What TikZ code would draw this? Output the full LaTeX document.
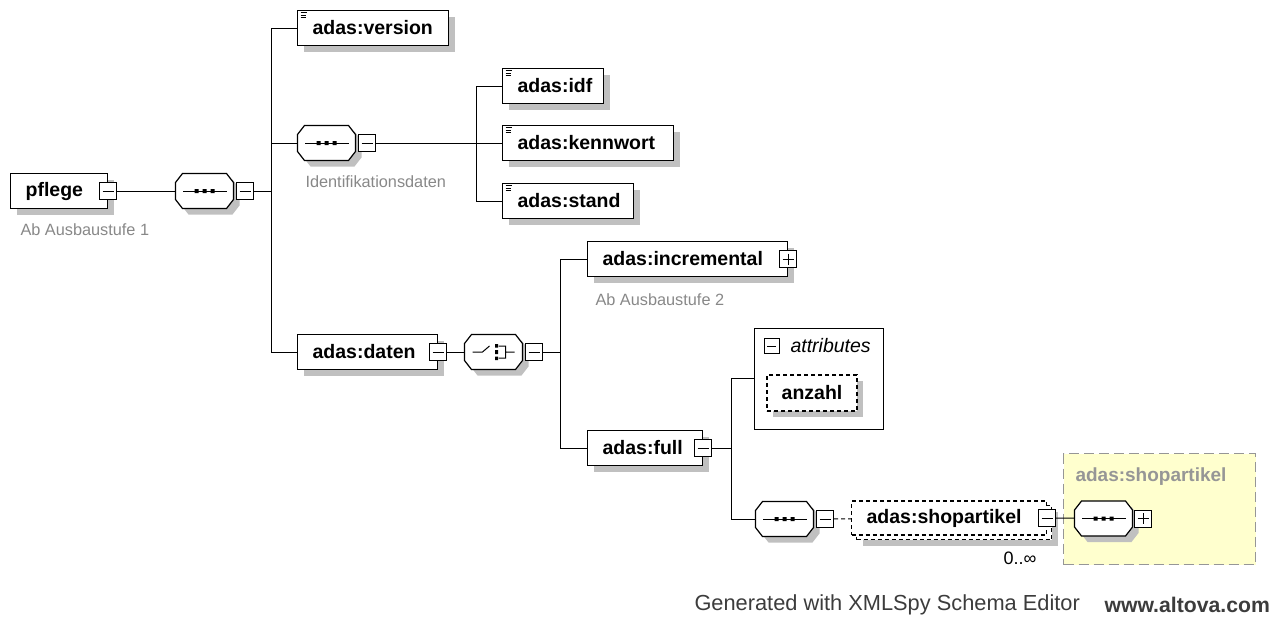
\documentclass[tikz,border=0pt]{standalone}
\usepackage{fontspec}
\setmainfont{Liberation Sans}
\usepackage{tikz}
\usetikzlibrary{positioning,calc,shadows}
\definecolor{notegray}{RGB}{136,136,136}
\definecolor{shadowgray}{RGB}{192,192,192}
\definecolor{groupfill}{RGB}{255,255,206}
\definecolor{groupline}{RGB}{150,150,150}
\definecolor{footgray}{RGB}{60,60,60}
\newcommand{\simpleicon}[1]{\draw[line width=0.9pt,shift={(#1.north west)}]
  (3.5,3)--(10,3) (3.5,5.5)--(9,5.5) (3.5,8)--(9,8);}
% octagon of a compositor, drawn over its (invisible) node
\newcommand{\octagon}[1]{%
  \fill[shadowgray,shift={(#1.center)},shift={(6,6)}] (-22,-17.5) -- (22,-17.5) -- (29,-8.5)
    -- (29,8.5) -- (22,17.5) -- (-22,17.5) -- (-29,8.5) -- (-29,-8.5) -- cycle;
  \filldraw[fill=white,line width=1.2pt,shift={(#1.center)}] (-22,-17.5) -- (22,-17.5) -- (29,-8.5)
    -- (29,8.5) -- (22,17.5) -- (-22,17.5) -- (-29,8.5) -- (-29,-8.5) -- cycle;}
\newcommand{\seqicon}[1]{%
  \octagon{#1}
  \draw[line width=1pt] ([xshift=8pt]#1.west) -- ([xshift=-7pt]#1.east);
  \fill[shift={(#1.center)}] (-10,-2) rectangle (-6,2) (-2,-2) rectangle (2,2)
    (6,-2) rectangle (10,2);}
\newcommand{\choiceicon}[1]{%
  \octagon{#1}
  \draw[line width=1pt,shift={(#1.center)}] (-21,0) -- (-11,0) -- (-4,-6)
    (5,-6) -- (12,-6) -- (12,6) -- (5,6) (12,0) -- (21,0);
  \fill[shift={(#1.center)}] (1.5,-8) rectangle (4.5,-4.5) (1.5,-2) rectangle (4.5,2)
    (1.5,4.5) rectangle (4.5,8);}

\begin{document}
\begin{tikzpicture}[x=1pt,y=-1pt,line width=1pt,
  shade/.style={drop shadow={shadow xshift=6pt,shadow yshift=-6pt,fill=shadowgray,opacity=1}},
  elembase/.style={draw,line width=1.2pt,fill=white,anchor=west,minimum height=35pt,
    inner xsep=15pt,inner ysep=0pt,align=left,text width=#1,
    font=\fontsize{19.5}{22}\selectfont\bfseries},
  elem/.style={elembase=#1,shade},
  compositor/.style={rectangle,minimum width=58pt,minimum height=35pt,inner sep=0pt,anchor=west},
  toggle/.style={draw,line width=1pt,fill=white,minimum size=17pt,inner sep=0pt},
  minus/.style={toggle,path picture={\draw[line width=1pt]
    ([xshift=3pt]path picture bounding box.west) -- ([xshift=-3pt]path picture bounding box.east);}},
  plus/.style={toggle,path picture={\draw[line width=1pt]
    ([xshift=3pt]path picture bounding box.west) -- ([xshift=-3pt]path picture bounding box.east)
    ([yshift=-3pt]path picture bounding box.north) -- ([yshift=3pt]path picture bounding box.south);}},
  note/.style={anchor=west,text=notegray,inner sep=0pt,font=\fontsize{16.3}{18}\selectfont},
  multi/.style={dash pattern=on 4pt off 3pt},
  foot/.style={anchor=west,text=footgray,inner sep=0pt,font=\fontsize{21.8}{24}\selectfont}]
\useasboundingbox (0,0) rectangle (1276,616);

% root element
\node[elem=67pt] (pflege) at (10,191) {pflege};
\node[minus] (pflegeT) at (pflege.east) {};
\node[note] (pflegeN) at (20,230) {Ab Ausbaustufe 1};
\node[compositor] (seqA) at (175,191) {};
\seqicon{seqA}
\node[minus,anchor=west] (seqAT) at ([xshift=2pt]seqA.east) {};

% first level
\coordinate (busA) at (271,191);
\node[elem=121pt] (version) at (297,28) {adas:version};
\simpleicon{version}
\node[compositor] (seqB) at (297,143) {};
\seqicon{seqB}
\node[minus,anchor=west] (seqBT) at ([xshift=2pt]seqB.east) {};
\node[note] (seqBN) at (305,182) {Identifikationsdaten};
\node[elem=110pt] (daten) at (297,352) {adas:daten};
\node[minus] (datenT) at (daten.east) {};

% Identifikationsdaten
\coordinate (busB) at (476,143);
\node[elem=71pt] (idf) at (502,86) {adas:idf};
\simpleicon{idf}
\node[elem=141pt] (kennwort) at (502,143) {adas:kennwort};
\simpleicon{kennwort}
\node[elem=101pt] (stand) at (502,201) {adas:stand};
\simpleicon{stand}

% adas:daten
\node[compositor] (choice) at (464,352) {};
\choiceicon{choice}
\node[minus,anchor=west] (choiceT) at ([xshift=2pt]choice.east) {};
\coordinate (busC) at (560,352);
\node[elem=170pt] (incremental) at (587,259) {adas:incremental};
\node[plus] (incrementalT) at (incremental.east) {};
\node[note] (incrementalN) at (595,300) {Ab Ausbaustufe 2};
\node[elem=85pt] (full) at (587,448) {adas:full};
\node[minus] (fullT) at (full.east) {};

% adas:full
\coordinate (busD) at (731,448);
\node[draw,line width=1pt,fill=white,anchor=west,minimum width=129pt,minimum height=101pt]
  (attrs) at (754,378.5) {};
\node[minus,minimum size=15pt] (attrsT) at (771.5,346) {};
\node[anchor=west,inner sep=0pt,font=\fontsize{19.5}{22}\selectfont\itshape] (attrsL) at (790,346) {attributes};
\node[draw,multi,line width=1.2pt,fill=white,minimum width=90pt,minimum height=36pt,inner sep=0pt,
  font=\fontsize{19.5}{22}\selectfont\bfseries,shade] (anzahl) at (812,393) {anzahl};
\node[compositor] (seqC) at (755,519) {};
\seqicon{seqC}
\node[minus,anchor=west] (seqCT) at ([xshift=2pt]seqC.east) {};
\node[draw,multi,line width=1.2pt,fill=white,anchor=north west,minimum width=195pt,
  minimum height=34pt,shade] (shopB) at (856,505) {};
\node[elembase=165pt,multi,minimum height=34pt] (shop) at (851,518) {adas:shopartikel};
\node[minus] (shopT) at (shop.east) {};
\node[inner sep=0pt,font=\fontsize{18}{20}\selectfont] (shopN) at (1020,558) {0..∞};

% group adas:shopartikel
\node[draw=groupline,dash pattern=on 10pt off 5pt,line width=1.2pt,fill=groupfill,anchor=north west,
  minimum width=192pt,minimum height=111pt] (group) at (1063,453) {};
\node[anchor=west,inner sep=0pt,text=groupline,font=\fontsize{19}{22}\selectfont\bfseries]
  (groupL) at (1075,477) {adas:shopartikel};
\node[compositor] (seqD) at (1074,518.5) {};
\seqicon{seqD}
\node[plus,anchor=west] (seqDT) at ([xshift=1pt]seqD.east) {};

% connectors
\draw (pflegeT) -- (seqA);
\draw (seqAT) -- (busA);
\draw (busA) |- (version);
\draw (busA) |- (seqB);
\draw (busA) |- (daten);
\draw (seqBT) -- (busB);
\draw (busB) |- (idf);
\draw (busB) -- (kennwort);
\draw (busB) |- (stand);
\draw (datenT) -- (choice);
\draw (choiceT) -- (busC);
\draw (busC) |- (incremental);
\draw (busC) |- (full);
\draw (fullT) -- (busD);
\draw (busD) |- (attrs);
\draw (busD) |- (seqC);
\draw[multi] (seqCT) -- (shop);
\draw (shopT) -- (seqD);

% footer
\node[foot] (gen) at (694,605) {Generated with XMLSpy Schema Editor};
\node[foot,font=\fontsize{21.2}{24}\selectfont\bfseries] (url) at (1104,605) {www.altova.com};
\end{tikzpicture}
\end{document}
